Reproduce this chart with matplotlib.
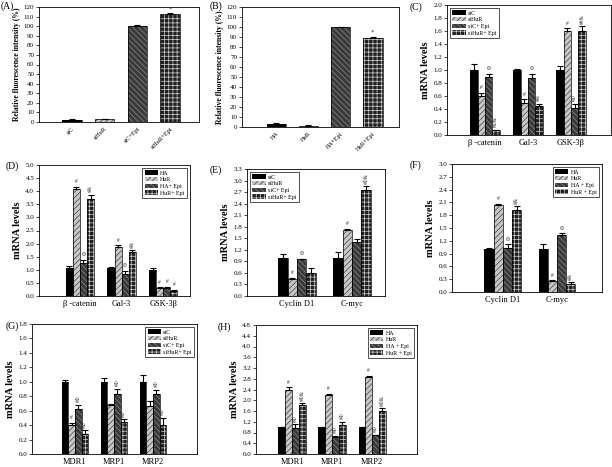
import matplotlib
matplotlib.use("Agg")
import matplotlib.pyplot as plt
import numpy as np

plt.rcParams['font.family'] = ['Liberation Serif', 'DejaVu Serif']
plt.rcParams['hatch.linewidth'] = 0.5

W, H = 612, 467

# ---------------- data ----------------
a_labels = ["siC", "siHuR", "siC+Epi", "siHuR+Epi"]
a_vals = [2.5, 3.0, 100.0, 113.0]
a_err = [0.3, 0.4, 1.0, 1.0]
a_ann = ["", "", "", "*"]

b_labels = ["HA", "HuR", "HA+Epi", "HuR+Epi"]
b_vals = [3.5, 1.5, 100.0, 89.0]
b_err = [1.0, 0.3, 0.5, 1.5]
b_ann = ["", "", "", "*"]

si_legend = ["siC", "siHuR", "siC+ Epi", "siHuR+ Epi"]
ha_legend = ["HA", "HuR", "HA+ Epi", "HuR+ Epi"]
ha_legend2 = ["HA", "HuR", "HA + Epi", "HuR + Epi"]

c_cats = ["\u03b2 -catenin", "Gal-3", "GSK-3\u03b2"]
c_vals = [[1.0, 1.0, 1.0], [0.60, 0.50, 1.60], [0.89, 0.88, 0.41], [0.07, 0.44, 1.60]]
c_err = [[0.09, 0.02, 0.06], [0.05, 0.05, 0.04], [0.05, 0.06, 0.07], [0.01, 0.04, 0.07]]
c_ann = [["", "", ""], ["#", "#", "#"], ["\u03a6", "\u03a6", "#\u03a6"], ["#\u03a6&", "#&", "##&"]]

d_cats = ["\u03b2 -catenin", "Gal-3", "GSK-3\u03b2"]
d_vals = [[1.05, 1.05, 1.0], [4.07, 1.87, 0.30], [1.25, 0.85, 0.30], [3.72, 1.68, 0.20]]
d_err = [[0.10, 0.06, 0.06], [0.10, 0.06, 0.03], [0.12, 0.10, 0.06], [0.15, 0.07, 0.04]]
d_ann = [["", "", ""], ["#", "#", "#"], ["\u03a6", "\u03a6", "#"], ["#&", "#&", "#"]]

e_cats = ["Cyclin D1", "C-myc"]
e_vals = [[1.0, 1.0], [0.45, 1.72], [0.95, 1.40], [0.60, 2.75]]
e_err = [[0.10, 0.15], [0.03, 0.03], [0.02, 0.07], [0.12, 0.10]]
e_ann = [["", ""], ["#", "#"], ["\u03a6", ""], ["", "#\u03a6&"]]

f_cats = ["Cyclin D1", "C-myc"]
f_vals = [[1.0, 1.0], [2.03, 0.25], [1.02, 1.33], [1.93, 0.18]]
f_err = [[0.02, 0.12], [0.04, 0.02], [0.10, 0.05], [0.08, 0.05]]
f_ann = [["", ""], ["#", "#"], ["\u03a6", "\u03a6"], ["#&", "#&"]]

g_cats = ["MDR1", "MRP1", "MRP2"]
g_vals = [[1.0, 1.0, 1.0], [0.40, 0.68, 0.67], [0.62, 0.83, 0.83], [0.28, 0.44, 0.40]]
g_err = [[0.02, 0.05, 0.09], [0.03, 0.01, 0.06], [0.06, 0.07, 0.06], [0.05, 0.04, 0.10]]
g_ann = [["", "", ""], ["#", "", ""], ["#\u03a6", "#\u03a6", "#\u03a6"], ["#\u03a6", "#\u03a6", "#\u03a6"]]

h_cats = ["MDR1", "MRP1", "MRP2"]
h_vals = [[1.0, 1.0, 1.0], [2.40, 2.20, 2.87], [0.95, 0.62, 0.70], [1.83, 1.07, 1.60]]
h_err = [[0.02, 0.01, 0.02], [0.08, 0.05, 0.03], [0.15, 0.05, 0.02], [0.06, 0.12, 0.10]]
h_ann = [["", "", ""], ["#", "#", "#"], ["#\u03a6", "#\u03a6", "#\u03a6"], ["#\u03a6&", "#\u03a6", "#\u03a6&"]]

# ---------------- styles ----------------
STYLES = [
    dict(fc="black", hc="black", hatch=None),
    dict(fc="#c8c8c8", hc="#404040", hatch="//////"),
    dict(fc="#3a3a3a", hc="#8a8a8a", hatch="\\\\\\\\\\\\"),
    dict(fc="#202020", hc="#d0d0d0", hatch="++++"),
]

fig = plt.figure(figsize=(W / 100, H / 100), dpi=100)


def add_ax(l, t, r, b):
    return fig.add_axes([l / W, 1 - b / H, (r - l) / W, (b - t) / H])


def styled_bar(ax, x, h, w, st, err):
    ax.bar(x, h, w, color=st["fc"], edgecolor=st["hc"], hatch=st["hatch"], linewidth=0, zorder=2)
    ax.bar(x, h, w, fill=False, edgecolor="black", linewidth=0.5, zorder=3)
    ax.errorbar(x, h, yerr=[np.zeros(len(np.atleast_1d(h))), err], fmt="none",
                ecolor="black", elinewidth=0.8, capsize=2, capthick=0.8, zorder=4)


def common(ax, ylim, step, ylabel, ylabel_fs=7.5, tick_fs=5):
    ax.set_ylim(*ylim)
    ticks = np.arange(0, ylim[1] + step / 2, step)
    ax.set_yticks(ticks)
    dec = 0 if step >= 1 else 1
    ax.set_yticklabels([f"{t:.{dec}f}" for t in ticks], fontsize=tick_fs)
    ax.tick_params(axis="y", direction="out", length=2, width=0.5, pad=1.5)
    ax.tick_params(axis="x", length=0, pad=3)
    for s in ax.spines.values():
        s.set_linewidth(0.6)
    ax.set_ylabel(ylabel, fontsize=ylabel_fs, fontweight="bold", labelpad=2)


def annotate(ax, x, y, txt, fs=4):
    if not txt:
        return
    if len(txt) == 1:
        ax.text(x, y, txt, ha="center", va="bottom", fontsize=fs, color="#333333", zorder=5)
    else:
        ax.text(x, y, txt, ha="center", va="bottom", fontsize=fs, color="#333333", rotation=90, zorder=5)


def single_panel(box, labels, vals, err, ann, xlim, ylabel, letter, lpos):
    ax = add_ax(*box)
    x = np.arange(len(vals))
    for i in range(len(vals)):
        styled_bar(ax, [x[i]], [vals[i]], 0.6, STYLES[i], [err[i]])
        yt = vals[i] + err[i] + 1.5
        annotate(ax, x[i], yt, ann[i], fs=5)
    ax.set_xlim(*xlim)
    ax.set_xticks(x)
    ax.set_xticklabels(labels, rotation=45, ha="right", rotation_mode="anchor", fontsize=4.5)
    common(ax, (0, 120), 10, ylabel, ylabel_fs=5.5, tick_fs=5)
    fig.text(lpos[0] / W, 1 - lpos[1] / H, letter, fontsize=7, ha="left", va="top")
    return ax


def group_panel(box, cats, vals, err, ann, xlim, ylim, step, legend, loc, letter, lpos, bw=0.17, ypad=None):
    ax = add_ax(*box)
    x = np.arange(len(cats))
    n = len(vals)
    handles = []
    rng = ylim[1] - ylim[0]
    for i in range(n):
        xi = x + (i - (n - 1) / 2) * bw
        st = STYLES[i]
        styled_bar(ax, xi, vals[i], bw, st, err[i])
        handles.append(plt.Rectangle((0, 0), 1, 1, facecolor=st["fc"], edgecolor=st["hc"],
                                     hatch=st["hatch"], linewidth=0))
        for j in range(len(cats)):
            annotate(ax, xi[j], vals[i][j] + err[i][j] + rng * 0.02, ann[i][j])
    ax.set_xlim(*xlim)
    ax.set_xticks(x)
    ax.set_xticklabels(cats, fontsize=6)
    common(ax, ylim, step, "mRNA levels")
    leg = ax.legend(handles, legend, loc=loc, fontsize=4.3, frameon=True, fancybox=False,
                    edgecolor="black", handlelength=2.2, handleheight=0.7, handletextpad=0.4,
                    borderpad=0.4, labelspacing=0.25, borderaxespad=0.5)
    leg.get_frame().set_linewidth(0.6)
    fig.text(lpos[0] / W, 1 - lpos[1] / H, letter, fontsize=7, ha="left", va="top")
    return ax


single_panel((39, 7, 199, 122), a_labels, a_vals, a_err, a_ann, (-1.0, 3.88),
             "Relative fluorescence intensity (%)", "(A)", (1, 1))
single_panel((242, 7, 399, 127), b_labels, b_vals, b_err, b_ann, (-1.06, 3.81),
             "Relative fluorescence intensity (%)", "(B)", (210, 1))

group_panel((447, 5, 611, 135), c_cats, c_vals, c_err, c_ann, (-0.88, 2.93), (0, 2.0), 0.2,
            si_legend, "upper left", "(C)", (410, 2))
group_panel((39, 165, 190, 296), d_cats, d_vals, d_err, d_ann, (-0.98, 2.64), (0, 5.0), 0.5,
            ha_legend, "upper right", "(D)", (6, 161))
group_panel((247, 169, 385, 296), e_cats, e_vals, e_err, e_ann, (-0.91, 1.6), (0, 3.3), 0.3,
            si_legend, "upper left", "(E)", (210, 165))
group_panel((452, 164, 602, 292), f_cats, f_vals, f_err, f_ann, (-0.94, 1.83), (0, 3.0), 0.3,
            ha_legend2, "upper right", "(F)", (410, 160))
group_panel((32, 324, 197, 454), g_cats, g_vals, g_err, g_ann, (-1.1, 3.13), (0, 1.8), 0.2,
            si_legend, "upper right", "(G)", (6, 321))
group_panel((256, 325, 417, 454), h_cats, h_vals, h_err, h_ann, (-0.9, 3.12), (0, 4.8), 0.4,
            ha_legend2, "upper right", "(H)", (218, 322))

fig.savefig("out.png", dpi=100)
